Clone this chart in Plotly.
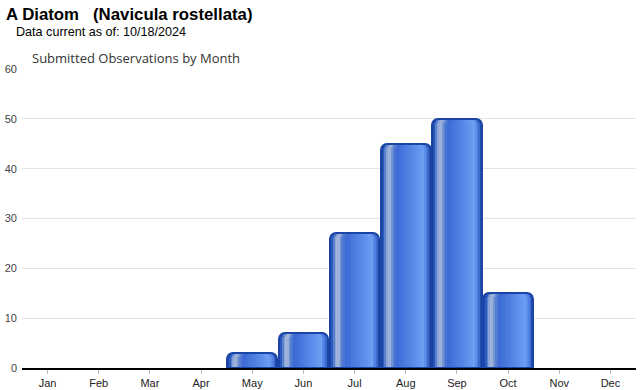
import plotly.graph_objects as go

months = ["Jan", "Feb", "Mar", "Apr", "May", "Jun", "Jul", "Aug", "Sep", "Oct", "Nov", "Dec"]
observations = [0, 0, 0, 0, 3, 7, 27, 45, 50, 15, 0, 0]
y_ticks = [0, 10, 20, 30, 40, 50, 60]

title_text = "A Diatom   (Navicula rostellata)"
subtitle_text = "Data current as of: 10/18/2024"
chart_title = "Submitted Observations by Month"

W, H = 640, 390
ML, MR, MT, MB = 22, 4, 69, 22
PW = W - ML - MR
PH = H - MT - MB

stops = [
    (0.00, (26, 63, 154)),
    (0.05, (42, 92, 192)),
    (0.12, (143, 168, 216)),
    (0.17, (169, 187, 220)),
    (0.24, (90, 130, 208)),
    (0.32, (60, 106, 214)),
    (0.60, (85, 133, 230)),
    (0.85, (109, 158, 242)),
    (0.93, (74, 122, 224)),
    (1.00, (26, 63, 154)),
]


def color_at(t):
    for (t0, c0), (t1, c1) in zip(stops[:-1], stops[1:]):
        if t0 <= t <= t1:
            f = (t - t0) / (t1 - t0) if t1 > t0 else 0
            c = [round(a + (b - a) * f) for a, b in zip(c0, c1)]
            return "rgb(%d,%d,%d)" % tuple(c)
    return "rgb(%d,%d,%d)" % stops[-1][1]


shown = [v if v > 0 else None for v in observations]

fig = go.Figure()
N = 30
total_w = 0.97
R = 6


def add_layer(a, b, color):
    fig.add_trace(go.Bar(
        x=months, y=shown,
        offset=-total_w / 2 + a * total_w, width=(b - a) * total_w,
        marker=dict(color=color, line=dict(width=0), cornerradius=R),
        hoverinfo="skip", showlegend=False,
    ))


half = N // 2
for i in range(half):
    add_layer(i / N, 1.0, color_at((i + 0.5) / N))
for j in range(N - 1, half - 1, -1):
    add_layer(0.5, (j + 1) / N, color_at((j + 0.5) / N))

fig.add_trace(go.Bar(
    x=months, y=shown,
    width=total_w, offset=-total_w / 2,
    marker=dict(color="rgba(0,0,0,0)", line=dict(color="#1a44a6", width=2), cornerradius=R),
    showlegend=False,
))

fig.update_layout(
    width=W, height=H,
    margin=dict(l=ML, r=MR, t=MT, b=MB, autoexpand=False),
    paper_bgcolor="white", plot_bgcolor="white",
    barmode="overlay", bargap=0,
    font=dict(family="Arial, Liberation Sans, sans-serif", size=11, color="#333"),
    xaxis=dict(
        type="category", categoryorder="array", categoryarray=months,
        showline=True, linecolor="black", linewidth=1.5,
        ticks="outside", ticklen=4, tickcolor="#bbb",
        tickfont=dict(size=11, color="#222"),
        showgrid=False, fixedrange=True, automargin=False,
    ),
    yaxis=dict(
        range=[0, 60], tickvals=y_ticks,
        showgrid=True, gridcolor="#e3e3e3", gridwidth=1,
        zeroline=False, ticks="", ticklabelstandoff=4,
        tickfont=dict(size=11, color="#444"),
        fixedrange=True, automargin=False,
    ),
    annotations=[
        dict(text="<b>" + title_text + "</b>", xref="paper", yref="paper",
             x=(4 - ML) / PW, y=(H - MB - 15) / PH, xanchor="left", yanchor="middle",
             showarrow=False, font=dict(size=16.8, color="black", family="Arial, Liberation Sans, sans-serif")),
        dict(text=subtitle_text, xref="paper", yref="paper",
             x=(14 - ML) / PW, y=(H - MB - 32) / PH, xanchor="left", yanchor="middle",
             showarrow=False, font=dict(size=12.6, color="black", family="Arial, Liberation Sans, sans-serif")),
        dict(text=chart_title, xref="paper", yref="paper",
             x=(30 - ML) / PW, y=(H - MB - 58) / PH, xanchor="left", yanchor="middle",
             showarrow=False, font=dict(size=13, color="#333", family="Open Sans, sans-serif")),
    ],
)

fig.write_html(
    "out.html",
    config={"displayModeBar": False},
    post_script="document.body.style.margin='0';document.body.style.overflow='hidden';",
)
